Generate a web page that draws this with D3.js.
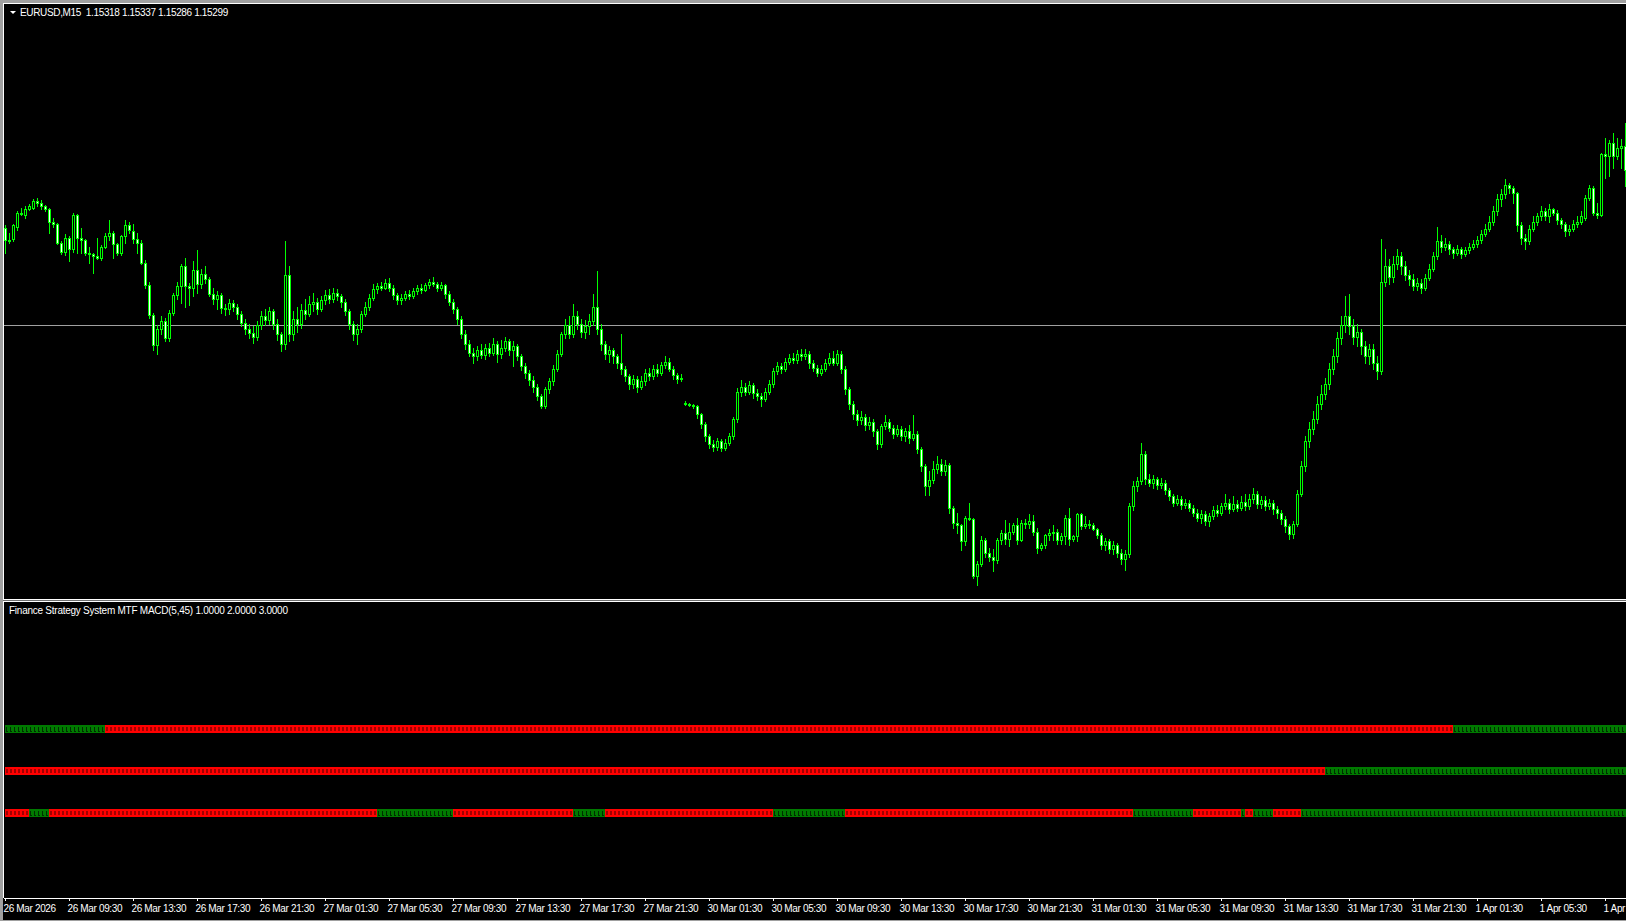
<!DOCTYPE html>
<html>
<head>
<meta charset="utf-8">
<script src="https://cdn.jsdelivr.net/npm/d3@7"></script>
<style>
html, body { margin: 0; padding: 0; background: #a0a0a0; overflow: hidden; }
svg { display: block; }
text { font-family: Tahoma, "Liberation Sans", Arial, sans-serif; font-size: 10px; letter-spacing: -0.35px; fill: #fff; }
</style>
</head>
<body>
<svg id="chart" width="1626" height="921"></svg>
<script>
// EURUSD M15, one value per bar (406 bars)
var symbolName = "EURUSD,M15";

var tickLabels = ["26 Mar 2026", "26 Mar 09:30", "26 Mar 13:30", "26 Mar 17:30", "26 Mar 21:30",
    "27 Mar 01:30", "27 Mar 05:30", "27 Mar 09:30", "27 Mar 13:30", "27 Mar 17:30", "27 Mar 21:30",
    "30 Mar 01:30", "30 Mar 05:30", "30 Mar 09:30", "30 Mar 13:30", "30 Mar 17:30", "30 Mar 21:30",
    "31 Mar 01:30", "31 Mar 05:30", "31 Mar 09:30", "31 Mar 13:30", "31 Mar 17:30", "31 Mar 21:30",
    "1 Apr 01:30", "1 Apr 05:30", "1 Apr 09:30"];

var opens = [
1.15253,1.15243,1.15244,1.15254,1.15265,1.15263,1.15268,1.15269,1.15274,1.15273,1.15270,1.15268,1.15258,1.15256,1.15241,1.15234,
1.15245,1.15236,1.15263,1.15245,1.15243,1.15233,1.15232,1.15230,1.15229,1.15238,1.15246,1.15249,1.15240,1.15233,1.15246,1.15255,
1.15250,1.15244,1.15241,1.15225,1.15207,1.15183,1.15159,1.15172,1.15178,1.15165,1.15185,1.15199,1.15206,1.15222,1.15206,1.15205,
1.15219,1.15208,1.15216,1.15212,1.15200,1.15196,1.15199,1.15189,1.15188,1.15193,1.15190,1.15184,1.15177,1.15172,1.15169,1.15166,
1.15175,1.15182,1.15179,1.15186,1.15176,1.15168,1.15160,1.15215,1.15168,1.15180,1.15176,1.15187,1.15184,1.15192,1.15194,1.15188,
1.15195,1.15199,1.15196,1.15201,1.15198,1.15194,1.15186,1.15176,1.15168,1.15172,1.15184,1.15190,1.15197,1.15204,1.15206,1.15205,
1.15209,1.15205,1.15199,1.15195,1.15197,1.15200,1.15198,1.15202,1.15205,1.15203,1.15207,1.15210,1.15208,1.15205,1.15207,1.15200,
1.15194,1.15188,1.15180,1.15168,1.15160,1.15153,1.15150,1.15155,1.15151,1.15157,1.15153,1.15160,1.15152,1.15157,1.15162,1.15155,
1.15158,1.15150,1.15142,1.15137,1.15131,1.15126,1.15118,1.15110,1.15124,1.15130,1.15140,1.15152,1.15168,1.15175,1.15168,1.15182,
1.15176,1.15170,1.15174,1.15178,1.15190,1.15172,1.15160,1.15152,1.15155,1.15150,1.15145,1.15140,1.15134,1.15128,1.15132,1.15126,
1.15130,1.15137,1.15134,1.15140,1.15137,1.15143,1.15146,1.15140,1.15135,1.15132,1.15113,1.15112,1.15111,1.15110,1.15104,1.15096,
1.15086,1.15080,1.15078,1.15082,1.15077,1.15081,1.15086,1.15100,1.15122,1.15126,1.15122,1.15127,1.15121,1.15118,1.15116,1.15122,
1.15128,1.15138,1.15142,1.15140,1.15146,1.15149,1.15147,1.15152,1.15150,1.15152,1.15145,1.15141,1.15137,1.15140,1.15145,1.15149,
1.15145,1.15152,1.15140,1.15124,1.15112,1.15104,1.15099,1.15102,1.15095,1.15098,1.15090,1.15080,1.15094,1.15098,1.15093,1.15088,
1.15092,1.15086,1.15090,1.15085,1.15088,1.15076,1.15062,1.15046,1.15051,1.15060,1.15064,1.15058,1.15063,1.15029,1.15017,1.15015,
1.15002,1.15021,1.15020,1.14974,1.14984,1.15003,1.14993,1.14990,1.14987,1.15003,1.15009,1.15004,1.15010,1.15015,1.15003,1.15017,
1.15016,1.15018,1.15010,1.14997,1.14999,1.15007,1.15009,1.15010,1.15003,1.15006,1.15021,1.15004,1.15006,1.15024,1.15014,1.15016,
1.15015,1.15012,1.15007,1.14999,1.15002,1.14996,1.14999,1.14993,1.14988,1.14992,1.15030,1.15046,1.15050,1.15072,1.15052,1.15049,
1.15052,1.15047,1.15049,1.15043,1.15038,1.15033,1.15036,1.15031,1.15033,1.15029,1.15025,1.15021,1.15024,1.15018,1.15022,1.15027,
1.15025,1.15030,1.15033,1.15028,1.15032,1.15029,1.15034,1.15030,1.15036,1.15040,1.15032,1.15035,1.15030,1.15033,1.15028,1.15025,
1.15020,1.15014,1.15008,1.15016,1.15040,1.15062,1.15082,1.15092,1.15100,1.15112,1.15120,1.15128,1.15140,1.15150,1.15165,1.15175,
1.15182,1.15174,1.15166,1.15170,1.15158,1.15150,1.15156,1.15145,1.15138,1.15210,1.15222,1.15214,1.15224,1.15230,1.15222,1.15215,
1.15212,1.15206,1.15209,1.15205,1.15213,1.15220,1.15230,1.15242,1.15238,1.15240,1.15236,1.15233,1.15236,1.15232,1.15235,1.15238,
1.15240,1.15243,1.15248,1.15252,1.15258,1.15266,1.15276,1.15280,1.15287,1.15285,1.15281,1.15255,1.15245,1.15242,1.15252,1.15258,
1.15262,1.15266,1.15262,1.15268,1.15265,1.15259,1.15256,1.15250,1.15252,1.15256,1.15258,1.15261,1.15277,1.15285,1.15265,1.15263,
1.15312,1.15310,1.15321,1.15310,1.15317,1.15318];

var highs = [
1.15255,1.15249,1.15256,1.15266,1.15269,1.15270,1.15272,1.15276,1.15277,1.15275,1.15271,1.15269,1.15261,1.15257,1.15242,1.15248,
1.15246,1.15265,1.15264,1.15253,1.15244,1.15238,1.15233,1.15245,1.15239,1.15249,1.15259,1.15250,1.15241,1.15247,1.15259,1.15258,
1.15256,1.15249,1.15243,1.15227,1.15210,1.15185,1.15175,1.15182,1.15181,1.15187,1.15201,1.15210,1.15224,1.15229,1.15209,1.15226,
1.15235,1.15220,1.15222,1.15214,1.15205,1.15202,1.15201,1.15192,1.15196,1.15195,1.15192,1.15186,1.15180,1.15176,1.15174,1.15178,
1.15186,1.15188,1.15190,1.15188,1.15180,1.15170,1.15242,1.15222,1.15186,1.15190,1.15192,1.15196,1.15198,1.15201,1.15197,1.15198,
1.15203,1.15204,1.15205,1.15204,1.15200,1.15196,1.15188,1.15178,1.15176,1.15186,1.15194,1.15200,1.15208,1.15209,1.15210,1.15212,
1.15213,1.15207,1.15201,1.15200,1.15202,1.15203,1.15205,1.15207,1.15208,1.15209,1.15212,1.15214,1.15210,1.15210,1.15208,1.15202,
1.15196,1.15190,1.15182,1.15171,1.15163,1.15157,1.15158,1.15160,1.15160,1.15161,1.15165,1.15162,1.15163,1.15166,1.15164,1.15162,
1.15160,1.15152,1.15145,1.15139,1.15134,1.15128,1.15120,1.15126,1.15133,1.15143,1.15155,1.15170,1.15180,1.15182,1.15192,1.15186,
1.15180,1.15179,1.15184,1.15200,1.15218,1.15176,1.15162,1.15158,1.15157,1.15152,1.15168,1.15142,1.15136,1.15135,1.15134,1.15134,
1.15140,1.15141,1.15143,1.15144,1.15146,1.15150,1.15149,1.15142,1.15137,1.15136,1.15114,1.15113,1.15112,1.15111,1.15105,1.15098,
1.15088,1.15083,1.15085,1.15084,1.15084,1.15089,1.15102,1.15125,1.15131,1.15129,1.15130,1.15129,1.15124,1.15121,1.15125,1.15131,
1.15141,1.15146,1.15145,1.15149,1.15152,1.15153,1.15155,1.15156,1.15156,1.15154,1.15147,1.15143,1.15143,1.15148,1.15153,1.15154,
1.15155,1.15154,1.15142,1.15126,1.15114,1.15107,1.15106,1.15104,1.15102,1.15100,1.15092,1.15096,1.15103,1.15100,1.15095,1.15095,
1.15094,1.15093,1.15095,1.15103,1.15090,1.15078,1.15064,1.15058,1.15066,1.15070,1.15068,1.15067,1.15065,1.15030,1.15025,1.15016,
1.15022,1.15033,1.15021,1.14986,1.15006,1.15005,1.14997,1.14996,1.15005,1.15011,1.15019,1.15017,1.15017,1.15021,1.15019,1.15020,
1.15024,1.15023,1.15013,1.15001,1.15008,1.15012,1.15015,1.15012,1.15009,1.15023,1.15029,1.15007,1.15025,1.15025,1.15022,1.15019,
1.15017,1.15013,1.15009,1.15005,1.15004,1.15002,1.15001,1.14996,1.14995,1.15033,1.15050,1.15054,1.15081,1.15074,1.15056,1.15055,
1.15054,1.15053,1.15051,1.15045,1.15040,1.15039,1.15038,1.15036,1.15035,1.15031,1.15028,1.15027,1.15026,1.15025,1.15030,1.15031,
1.15033,1.15040,1.15036,1.15038,1.15035,1.15038,1.15040,1.15040,1.15045,1.15042,1.15038,1.15038,1.15036,1.15035,1.15030,1.15027,
1.15022,1.15016,1.15018,1.15043,1.15066,1.15086,1.15098,1.15106,1.15118,1.15127,1.15133,1.15145,1.15156,1.15170,1.15182,1.15198,
1.15200,1.15180,1.15176,1.15172,1.15162,1.15160,1.15160,1.15150,1.15244,1.15236,1.15228,1.15230,1.15236,1.15234,1.15226,1.15219,
1.15216,1.15213,1.15212,1.15216,1.15224,1.15234,1.15254,1.15247,1.15245,1.15242,1.15238,1.15239,1.15238,1.15238,1.15241,1.15243,
1.15246,1.15251,1.15256,1.15262,1.15270,1.15280,1.15284,1.15292,1.15289,1.15286,1.15282,1.15258,1.15248,1.15255,1.15262,1.15265,
1.15270,1.15269,1.15272,1.15269,1.15267,1.15261,1.15258,1.15255,1.15259,1.15262,1.15266,1.15279,1.15287,1.15286,1.15273,1.15313,
1.15325,1.15323,1.15329,1.15325,1.15324,1.15337];

var lows = [
1.15233,1.15241,1.15242,1.15251,1.15263,1.15261,1.15267,1.15268,1.15270,1.15268,1.15266,1.15249,1.15254,1.15240,1.15232,1.15231,
1.15226,1.15234,1.15233,1.15233,1.15231,1.15225,1.15217,1.15228,1.15227,1.15237,1.15243,1.15229,1.15231,1.15231,1.15241,1.15249,
1.15241,1.15233,1.15224,1.15205,1.15181,1.15155,1.15152,1.15168,1.15162,1.15162,1.15183,1.15196,1.15193,1.15190,1.15191,1.15198,
1.15201,1.15205,1.15209,1.15198,1.15192,1.15188,1.15185,1.15183,1.15184,1.15186,1.15180,1.15174,1.15168,1.15165,1.15161,1.15163,
1.15172,1.15175,1.15176,1.15172,1.15163,1.15154,1.15156,1.15162,1.15163,1.15170,1.15173,1.15180,1.15182,1.15186,1.15184,1.15186,
1.15192,1.15193,1.15194,1.15195,1.15190,1.15183,1.15172,1.15163,1.15160,1.15170,1.15182,1.15187,1.15195,1.15201,1.15203,1.15204,
1.15202,1.15196,1.15192,1.15192,1.15195,1.15196,1.15197,1.15200,1.15201,1.15202,1.15205,1.15206,1.15202,1.15203,1.15197,1.15191,
1.15185,1.15176,1.15165,1.15156,1.15150,1.15145,1.15147,1.15149,1.15148,1.15150,1.15151,1.15146,1.15149,1.15154,1.15151,1.15142,
1.15147,1.15139,1.15133,1.15127,1.15122,1.15115,1.15109,1.15109,1.15121,1.15127,1.15138,1.15150,1.15165,1.15165,1.15166,1.15172,
1.15166,1.15165,1.15168,1.15175,1.15168,1.15155,1.15148,1.15146,1.15145,1.15141,1.15136,1.15130,1.15124,1.15125,1.15122,1.15124,
1.15127,1.15131,1.15132,1.15134,1.15135,1.15141,1.15138,1.15132,1.15129,1.15130,1.15111,1.15110,1.15109,1.15101,1.15093,1.15082,
1.15077,1.15074,1.15075,1.15074,1.15075,1.15079,1.15084,1.15098,1.15118,1.15119,1.15120,1.15117,1.15115,1.15110,1.15114,1.15120,
1.15126,1.15136,1.15137,1.15138,1.15144,1.15145,1.15145,1.15147,1.15148,1.15141,1.15138,1.15134,1.15135,1.15138,1.15143,1.15143,
1.15143,1.15137,1.15120,1.15108,1.15100,1.15095,1.15096,1.15091,1.15092,1.15086,1.15076,1.15078,1.15092,1.15090,1.15085,1.15086,
1.15083,1.15082,1.15081,1.15083,1.15073,1.15058,1.15039,1.15039,1.15049,1.15057,1.15055,1.15055,1.15025,1.15013,1.15009,1.14995,
1.14999,1.15019,1.14973,1.14967,1.14982,1.14990,1.14986,1.14978,1.14985,1.15000,1.15000,1.14998,1.15008,1.15000,1.15002,1.15013,
1.15013,1.15007,1.14993,1.14995,1.14997,1.15003,1.15003,1.15000,1.15000,1.15000,1.14999,1.15002,1.15002,1.15012,1.15013,1.15013,
1.15011,1.15005,1.14996,1.14995,1.14993,1.14992,1.14990,1.14984,1.14979,1.14990,1.15027,1.15042,1.15048,1.15048,1.15046,1.15045,
1.15044,1.15045,1.15040,1.15035,1.15030,1.15031,1.15028,1.15029,1.15026,1.15022,1.15018,1.15017,1.15015,1.15014,1.15020,1.15022,
1.15023,1.15028,1.15025,1.15026,1.15026,1.15027,1.15027,1.15028,1.15033,1.15029,1.15029,1.15027,1.15028,1.15024,1.15021,1.15016,
1.15010,1.15004,1.15005,1.15014,1.15038,1.15058,1.15078,1.15088,1.15097,1.15108,1.15116,1.15124,1.15136,1.15146,1.15160,1.15170,
1.15168,1.15160,1.15158,1.15152,1.15145,1.15144,1.15140,1.15132,1.15136,1.15206,1.15208,1.15210,1.15220,1.15216,1.15211,1.15207,
1.15203,1.15203,1.15201,1.15203,1.15211,1.15218,1.15228,1.15234,1.15235,1.15232,1.15229,1.15231,1.15229,1.15230,1.15233,1.15236,
1.15238,1.15241,1.15246,1.15250,1.15255,1.15263,1.15270,1.15277,1.15281,1.15273,1.15250,1.15240,1.15236,1.15240,1.15250,1.15255,
1.15259,1.15259,1.15258,1.15263,1.15256,1.15253,1.15246,1.15247,1.15250,1.15254,1.15256,1.15259,1.15275,1.15263,1.15261,1.15262,
1.15293,1.15294,1.15301,1.15308,1.15301,1.15286];

var closes = [
1.15243,1.15242,1.15255,1.15265,1.15264,1.15268,1.15270,1.15274,1.15273,1.15270,1.15268,1.15258,1.15256,1.15241,1.15234,1.15245,
1.15236,1.15263,1.15245,1.15243,1.15233,1.15232,1.15230,1.15229,1.15238,1.15246,1.15249,1.15240,1.15233,1.15246,1.15255,1.15251,
1.15244,1.15241,1.15225,1.15207,1.15183,1.15159,1.15172,1.15178,1.15165,1.15185,1.15199,1.15206,1.15222,1.15206,1.15205,1.15219,
1.15208,1.15216,1.15212,1.15200,1.15196,1.15199,1.15189,1.15188,1.15193,1.15190,1.15184,1.15177,1.15172,1.15169,1.15166,1.15175,
1.15182,1.15179,1.15186,1.15176,1.15168,1.15160,1.15215,1.15168,1.15180,1.15176,1.15187,1.15184,1.15192,1.15194,1.15188,1.15195,
1.15199,1.15196,1.15201,1.15198,1.15194,1.15186,1.15176,1.15168,1.15172,1.15184,1.15190,1.15197,1.15204,1.15206,1.15205,1.15209,
1.15205,1.15199,1.15195,1.15197,1.15200,1.15198,1.15202,1.15205,1.15203,1.15207,1.15210,1.15208,1.15205,1.15207,1.15200,1.15194,
1.15188,1.15180,1.15168,1.15160,1.15153,1.15150,1.15155,1.15151,1.15157,1.15153,1.15160,1.15152,1.15157,1.15162,1.15155,1.15158,
1.15150,1.15142,1.15137,1.15131,1.15126,1.15118,1.15110,1.15124,1.15130,1.15140,1.15152,1.15168,1.15175,1.15168,1.15182,1.15176,
1.15170,1.15174,1.15178,1.15190,1.15172,1.15160,1.15152,1.15155,1.15150,1.15145,1.15140,1.15134,1.15128,1.15132,1.15126,1.15130,
1.15137,1.15134,1.15140,1.15137,1.15143,1.15146,1.15140,1.15135,1.15132,1.15133,1.15112,1.15111,1.15110,1.15104,1.15096,1.15086,
1.15080,1.15078,1.15082,1.15077,1.15081,1.15086,1.15100,1.15122,1.15126,1.15122,1.15127,1.15121,1.15118,1.15116,1.15122,1.15128,
1.15138,1.15142,1.15140,1.15146,1.15149,1.15147,1.15152,1.15150,1.15152,1.15145,1.15141,1.15137,1.15140,1.15145,1.15149,1.15145,
1.15152,1.15140,1.15124,1.15112,1.15104,1.15099,1.15102,1.15095,1.15098,1.15090,1.15080,1.15094,1.15098,1.15093,1.15088,1.15092,
1.15086,1.15090,1.15085,1.15088,1.15076,1.15062,1.15046,1.15051,1.15060,1.15064,1.15058,1.15063,1.15029,1.15017,1.15015,1.15002,
1.15021,1.15020,1.14974,1.14984,1.15003,1.14993,1.14990,1.14987,1.15003,1.15009,1.15004,1.15010,1.15015,1.15003,1.15017,1.15016,
1.15018,1.15010,1.14997,1.14999,1.15007,1.15009,1.15010,1.15003,1.15006,1.15021,1.15004,1.15006,1.15024,1.15014,1.15016,1.15015,
1.15012,1.15007,1.14999,1.15002,1.14996,1.14999,1.14993,1.14988,1.14992,1.15030,1.15046,1.15050,1.15072,1.15052,1.15049,1.15052,
1.15047,1.15049,1.15043,1.15038,1.15033,1.15036,1.15031,1.15033,1.15029,1.15025,1.15021,1.15024,1.15018,1.15022,1.15027,1.15025,
1.15030,1.15033,1.15028,1.15032,1.15029,1.15034,1.15030,1.15036,1.15040,1.15032,1.15035,1.15030,1.15033,1.15028,1.15025,1.15020,
1.15014,1.15008,1.15016,1.15040,1.15062,1.15082,1.15092,1.15100,1.15112,1.15120,1.15128,1.15140,1.15150,1.15165,1.15175,1.15182,
1.15174,1.15166,1.15170,1.15158,1.15150,1.15156,1.15145,1.15138,1.15210,1.15222,1.15214,1.15224,1.15230,1.15222,1.15215,1.15212,
1.15206,1.15209,1.15205,1.15213,1.15220,1.15230,1.15242,1.15238,1.15240,1.15236,1.15233,1.15236,1.15232,1.15235,1.15238,1.15240,
1.15243,1.15248,1.15252,1.15258,1.15266,1.15276,1.15280,1.15287,1.15285,1.15281,1.15255,1.15245,1.15242,1.15252,1.15258,1.15262,
1.15266,1.15262,1.15268,1.15265,1.15259,1.15256,1.15250,1.15252,1.15256,1.15258,1.15262,1.15277,1.15285,1.15265,1.15263,1.15312,
1.15310,1.15321,1.15310,1.15317,1.15318,1.15299];

// horizontal line object on the price chart
var hLinePrice = 1.15175;

// MTF MACD indicator: buffers 1.0, 2.0, 3.0, each a row of up/down states
// runs are [first bar, state]
var indicatorName = "Finance Strategy System MTF MACD(5,45)";
var indicatorLevels = [1, 2, 3];
var level3Runs = [[0, "up"], [25, "dn"], [362, "up"]];
var level2Runs = [[0, "dn"], [330, "up"]];
var level1Runs = [[0, "dn"], [6, "up"], [11, "dn"], [93, "up"], [112, "dn"], [142, "up"], [150, "dn"],
    [192, "up"], [210, "dn"], [282, "up"], [297, "dn"], [309, "up"], [310, "dn"], [312, "up"],
    [317, "dn"], [324, "up"]];

window.onload = function() {
    draw();
};

function draw() {
    var W = 1626, H = 921;
    var nBars = closes.length;
    var svg = d3.select("#chart");

    // frame
    svg.append("rect").attr("width", W).attr("height", H).attr("fill", "#a0a0a0");
    svg.append("rect").attr("x", 3).attr("y", 3).attr("width", W - 3).attr("height", 917).attr("fill", "#000");

    var defs = svg.append("defs");
    defs.append("clipPath").attr("id", "mainClip").append("rect")
        .attr("x", 4).attr("y", 4).attr("width", W - 4).attr("height", 594);
    defs.append("clipPath").attr("id", "subClip").append("rect")
        .attr("x", 4).attr("y", 602).attr("width", W - 4).attr("height", 295);

    var x = d3.scaleBand().domain(d3.range(nBars)).range([3, 3 + 4 * nBars]);
    var y = d3.scaleLinear().domain([1.14956, 1.15432]).range([599, 4]);
    var indY = d3.scaleLinear().domain([1, 3]).range([813, 729]);

    var bars = closes.map(function(c, i) {
        return {i: i, o: opens[i], h: highs[i], l: lows[i], c: c};
    });

    var main = svg.append("g").attr("clip-path", "url(#mainClip)").attr("shape-rendering", "crispEdges");

    var lineY = Math.round(y(hLinePrice)) + 0.5;
    main.append("line").attr("x1", 4).attr("x2", W).attr("y1", lineY).attr("y2", lineY)
        .attr("stroke", "#a0a0a0");

    main.selectAll("line.wick").data(bars).join("line")
        .attr("class", "wick")
        .attr("x1", function(d) { return x(d.i) + 2.5; })
        .attr("x2", function(d) { return x(d.i) + 2.5; })
        .attr("y1", function(d) { return Math.round(y(d.h)); })
        .attr("y2", function(d) { return Math.round(y(d.l)) + 1; })
        .attr("stroke", "#00ff00");

    main.selectAll("path.body").data(bars).join("path")
        .attr("class", "body")
        .attr("d", function(d) {
            var top = Math.round(y(Math.max(d.o, d.c))) + 0.5;
            var bot = Math.round(y(Math.min(d.o, d.c))) + 0.5;
            var left = x(d.i) + 1.5;
            return "M" + left + "," + top + "h2V" + bot + "h-2Z";
        })
        .attr("fill", function(d) { return d.c > d.o ? "#000" : "#fff"; })
        .attr("stroke", "#00ff00");

    // window borders
    var borders = svg.append("g").attr("fill", "#fff");
    borders.append("rect").attr("x", 3).attr("y", 3).attr("width", W - 3).attr("height", 1);
    borders.append("rect").attr("x", 3).attr("y", 3).attr("width", 1).attr("height", 596);
    borders.append("rect").attr("x", 3).attr("y", 599).attr("width", W - 3).attr("height", 1);
    svg.append("rect").attr("x", 3).attr("y", 600).attr("width", W - 3).attr("height", 1).attr("fill", "#707070");
    borders.append("rect").attr("x", 3).attr("y", 601).attr("width", W - 3).attr("height", 1);
    borders.append("rect").attr("x", 3).attr("y", 601).attr("width", 1).attr("height", 297);

    // title with last bar quote
    var last = bars[nBars - 1];
    svg.append("path").attr("d", "M10,11H16L13,14Z").attr("fill", "#fff");
    svg.append("text").attr("x", 20).attr("y", 16)
        .text(symbolName + "\u00a0\u00a0" + [last.o, last.h, last.l, last.c].map(function(v) { return v.toFixed(5); }).join(" "));

    // indicator rows
    var cells = [];
    [[3, level3Runs], [2, level2Runs], [1, level1Runs]].forEach(function(row) {
        var runs = row[1];
        runs.forEach(function(run, k) {
            var end = k + 1 < runs.length ? runs[k + 1][0] : nBars;
            for (var i = run[0]; i < end; i++) cells.push({i: i, lvl: row[0], state: run[1]});
        });
    });

    var sub = svg.append("g").attr("clip-path", "url(#subClip)").attr("shape-rendering", "crispEdges");
    sub.selectAll("rect.cell").data(cells).join("rect")
        .attr("class", "cell")
        .attr("x", function(d) { return x(d.i) + 2; })
        .attr("y", function(d) { return indY(d.lvl) - 4; })
        .attr("width", 4).attr("height", 8)
        .attr("fill", function(d) { return d.state === "up" ? "#007a00" : "#ff0000"; });
    sub.selectAll("rect.inner").data(cells).join("rect")
        .attr("class", "inner")
        .attr("x", function(d) { return x(d.i) + 3; })
        .attr("y", function(d) { return indY(d.lvl) - 2; })
        .attr("width", function(d) { return d.state === "up" ? 1 : 2; })
        .attr("height", function(d) { return d.state === "up" ? 5 : 4; })
        .attr("fill", function(d) { return d.state === "up" ? "#002c00" : "#a00000"; });
    sub.selectAll("rect.foot").data(cells.filter(function(d) { return d.state === "up"; })).join("rect")
        .attr("class", "foot")
        .attr("x", function(d) { return x(d.i) + 4; })
        .attr("y", function(d) { return indY(d.lvl) + 2; })
        .attr("width", 1).attr("height", 1)
        .attr("fill", "#002c00");

    svg.append("text").attr("x", 9).attr("y", 614)
        .style("letter-spacing", "-0.25px")
        .text(indicatorName + " " + indicatorLevels.map(function(v) { return v.toFixed(4); }).join(" "));

    // time axis
    var axis = d3.axisBottom(x)
        .tickValues(d3.range(0, nBars, 16))
        .tickFormat(function(d, i) { return tickLabels[i]; })
        .tickSize(3)
        .tickSizeOuter(0);
    var ax = svg.append("g").attr("transform", "translate(0,897.5)")
        .attr("shape-rendering", "crispEdges")
        .call(axis);
    ax.select(".domain").attr("stroke", "#fff");
    ax.selectAll(".tick line").attr("stroke", "#fff");
    ax.selectAll(".tick text")
        .attr("text-anchor", "start")
        .attr("x", -1.5)
        .attr("y", 7.5)
        .attr("fill", "#fff")
        .style("font-family", null)
        .style("font-size", null);
    ax.attr("font-family", null).attr("font-size", null);
}
</script>
</body>
</html>
